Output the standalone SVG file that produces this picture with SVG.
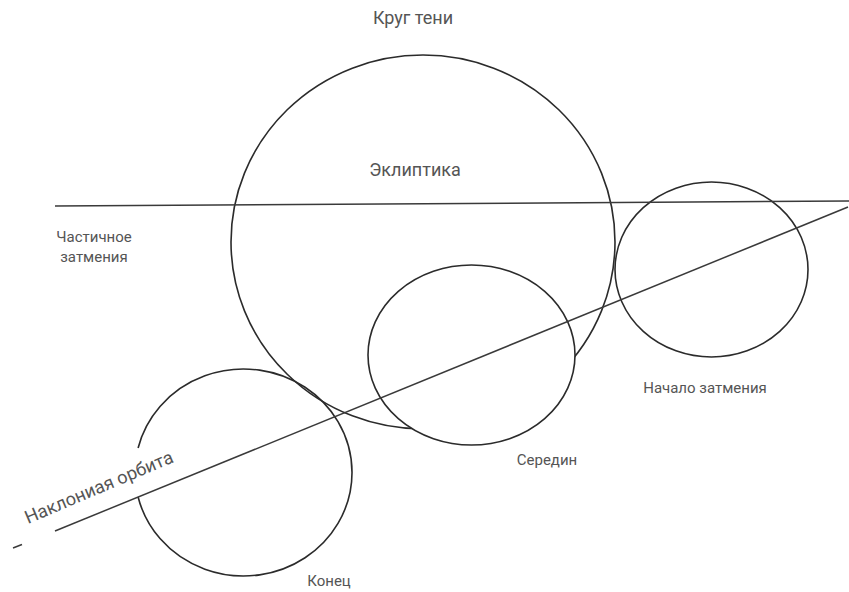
<svg xmlns="http://www.w3.org/2000/svg" width="849" height="592" viewBox="0 0 849 592">
<style>
.c{fill:none;stroke:#2b2b2b;stroke-width:1.6}
.w{fill:#fff;stroke:#2b2b2b;stroke-width:1.6}
.l{stroke:#3a3a3a;stroke-width:1.5;fill:none}
text{font-family:Roboto,"Liberation Sans",sans-serif;fill:#555}
.s{font-size:15px}
.m{font-size:18px}
</style>
<rect width="849" height="592" fill="#fff"/>
<g id="ecliptic"><ellipse class="c" cx="423" cy="242" rx="192" ry="187"/></g>
<g id="end"><path class="c" d="M138.1,497 A108.5,103.5 0 1 0 138.1,448"/></g>
<g id="middle"><ellipse class="w" cx="471.5" cy="355" rx="103.5" ry="90"/></g>
<g id="start"><ellipse class="c" cx="711.5" cy="269.5" rx="96.5" ry="87.5"/></g>
<g id="connectors">
<line class="l" x1="55" y1="206" x2="849" y2="201"/>
<line class="l" x1="55" y1="531" x2="848" y2="207"/>
<line class="l" x1="13" y1="548" x2="22" y2="544.5"/>
</g>
<g id="labels">
<text class="m" x="413" y="24" text-anchor="middle">Круг тени</text>
<text class="m" x="415" y="176" text-anchor="middle">Эклиптика</text>
<text class="s" x="94" y="242" text-anchor="middle">Частичное</text>
<text class="s" x="94" y="262" text-anchor="middle">затмения</text>
<text class="s" x="705" y="393" text-anchor="middle">Начало затмения</text>
<text class="s" x="547" y="465" text-anchor="middle">Середин</text>
<text class="s" x="329" y="586" text-anchor="middle">Конец</text>
<text x="28" y="524" transform="rotate(-23 28 524)" style="font-size:18.3px">Наклониая орбита</text>
</g>
</svg>
